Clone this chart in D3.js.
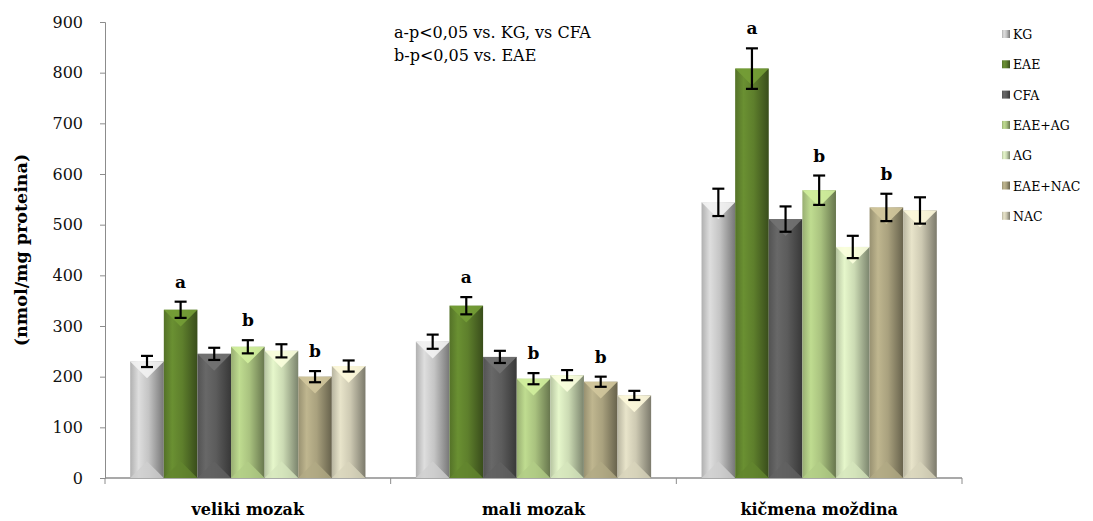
<!DOCTYPE html>
<html>
<head>
<meta charset="utf-8">
<script src="https://cdn.jsdelivr.net/npm/d3@7"></script>
<style>
  body { margin: 0; background: #fff; }
  text { font-family: "DejaVu Serif", serif; }
</style>
</head>
<body>
<script>
const width = 1093, height = 521;

// data
const regions = ["veliki mozak", "mali mozak", "kičmena moždina"];
const groups = ["KG", "EAE", "CFA", "EAE+AG", "AG", "EAE+NAC", "NAC"];
const means = [
  [230, 332, 245, 259, 251, 200, 221],
  [269, 340, 239, 196, 203, 190, 163],
  [544, 808, 511, 568, 456, 534, 528]
];
const errs = [
  [11, 16, 12, 13, 13, 11, 11],
  [14, 17, 12, 11, 10, 10, 9],
  [27, 40, 25, 29, 22, 27, 26]
];
const marks = [
  ["", "a", "", "b", "", "b", ""],
  ["", "a", "", "b", "", "b", ""],
  ["", "a", "", "b", "", "b", ""]
];
const yTicks = [0, 100, 200, 300, 400, 500, 600, 700, 800, 900];
const colors = ["#c4c4c4", "#5e7f2c", "#5c5c5c", "#a9c27f", "#cbdab3", "#a9a17e", "#cdc9b2"];
const notes = ["a-p<0,05 vs. KG, vs CFA", "b-p<0,05 vs. EAE"];

const margin = {left: 105, right: 131, top: 22, bottom: 43};

const svg = d3.select('body')
  .append('svg')
  .attr('width', width)
  .attr('height', height)
  .attr('viewBox', [0, 0, width, height]);

const x0 = d3.scaleBand()
  .domain(regions)
  .range([margin.left, width - margin.right]);

const x1 = d3.scaleBand()
  .domain(groups)
  .range([0, x0.bandwidth()])
  .paddingOuter(0.75)
  .paddingInner(0);

const y = d3.scaleLinear()
  .domain([0, 900])
  .range([height - margin.bottom, margin.top]);

// gradients per colour
const defs = svg.append('defs');
colors.forEach((c, i) => {
  const g = defs.append('linearGradient')
    .attr('id', 'grad' + i)
    .attr('x1', 0).attr('x2', 1).attr('y1', 0).attr('y2', 0);
  const base = d3.color(c);
  g.append('stop').attr('offset', '0%').attr('stop-color', base.darker(0.3));
  g.append('stop').attr('offset', '25%').attr('stop-color', base.brighter(0.35));
  g.append('stop').attr('offset', '55%').attr('stop-color', base);
  g.append('stop').attr('offset', '100%').attr('stop-color', base.darker(1.4));
});

// axes
const yAxis = d3.axisLeft(y).tickValues(yTicks).tickSize(5).tickPadding(17);
const ya = svg.append('g')
  .attr('transform', `translate(${margin.left},0)`)
  .call(yAxis);
ya.select('.domain').attr('stroke', '#8c8c8c');
ya.selectAll('.tick line').attr('stroke', '#8c8c8c');
ya.selectAll('.tick text')
  .attr('font-size', 16)
  .attr('font-family', '"DejaVu Serif", serif')
  .attr('fill', '#111');

// x axis line with category dividers
const xa = svg.append('g');
xa.append('line')
  .attr('x1', margin.left).attr('x2', width - margin.right)
  .attr('y1', y(0)).attr('y2', y(0))
  .attr('stroke', '#8c8c8c').attr('stroke-width', 1.3);
const dividers = regions.map(r => x0(r)).concat([x0(regions[2]) + x0.bandwidth()]);
xa.selectAll('.div')
  .data(dividers)
  .enter().append('line')
  .attr('x1', d => d).attr('x2', d => d)
  .attr('y1', y(0)).attr('y2', y(0) + 6)
  .attr('stroke', '#8c8c8c');

xa.selectAll('.cat')
  .data(regions)
  .enter().append('text')
  .attr('x', d => x0(d) + x0.bandwidth() / 2)
  .attr('y', height - 6)
  .attr('text-anchor', 'middle')
  .attr('font-size', 16)
  .attr('font-weight', 'bold')
  .text(d => d);

// y title
svg.append('text')
  .attr('transform', `translate(27,${(y(0) + y(900)) / 2}) rotate(-90)`)
  .attr('text-anchor', 'middle')
  .attr('font-size', 17.5)
  .attr('font-weight', 'bold')
  .text('(nmol/mg proteina)');

// bars
const bw = x1.bandwidth();
regions.forEach((r, ri) => {
  const g = svg.append('g').attr('transform', `translate(${x0(r)},0)`);
  groups.forEach((k, gi) => {
    const v = means[ri][gi];
    const bx = x1(k);
    const top = y(v), bot = y(0);
    const base = d3.color(colors[gi]);
    const bev = Math.min(bw / 2, (bot - top) / 2);
    g.append('rect')
      .attr('x', bx).attr('y', top)
      .attr('width', bw).attr('height', bot - top)
      .attr('fill', `url(#grad${gi})`);
    // top bevel
    g.append('path')
      .attr('d', `M${bx},${top}L${bx + bw},${top}L${bx + bw / 2},${top + bev}Z`)
      .attr('fill', base.brighter(0.6))
      .attr('opacity', 0.9);
    // bottom bevel
    g.append('path')
      .attr('d', `M${bx},${bot}L${bx + bw},${bot}L${bx + bw / 2},${bot - bev}Z`)
      .attr('fill', base.brighter(0.15))
      .attr('opacity', 0.8);
    // error bar
    const cx = bx + bw / 2;
    const e = errs[ri][gi];
    const eb = g.append('g').attr('stroke', '#000').attr('stroke-width', 2.2);
    eb.append('line').attr('x1', cx).attr('x2', cx).attr('y1', y(v + e)).attr('y2', y(v - e));
    eb.append('line').attr('x1', cx - 6).attr('x2', cx + 6).attr('y1', y(v + e)).attr('y2', y(v + e));
    eb.append('line').attr('x1', cx - 6).attr('x2', cx + 6).attr('y1', y(v - e)).attr('y2', y(v - e));
    if (marks[ri][gi]) {
      g.append('text')
        .attr('x', cx)
        .attr('y', y(v + e) - 14)
        .attr('text-anchor', 'middle')
        .attr('font-size', 17)
        .attr('font-weight', 'bold')
        .text(marks[ri][gi]);
    }
  });
});

// notes
svg.selectAll('.note')
  .data(notes)
  .enter().append('text')
  .attr('x', 394)
  .attr('y', (d, i) => 38 + i * 23)
  .attr('font-size', 16)
  .text(d => d);

// legend
const leg = svg.append('g').attr('transform', 'translate(1002,34)');
groups.forEach((k, i) => {
  const row = leg.append('g').attr('transform', `translate(0,${i * 30.3})`);
  row.append('rect')
    .attr('x', 0).attr('y', -4).attr('width', 8).attr('height', 8)
    .attr('fill', `url(#grad${i})`);
  row.append('text')
    .attr('x', 11).attr('y', 5)
    .attr('font-size', 12.5)
    .text(k);
});
</script>
</body>
</html>
